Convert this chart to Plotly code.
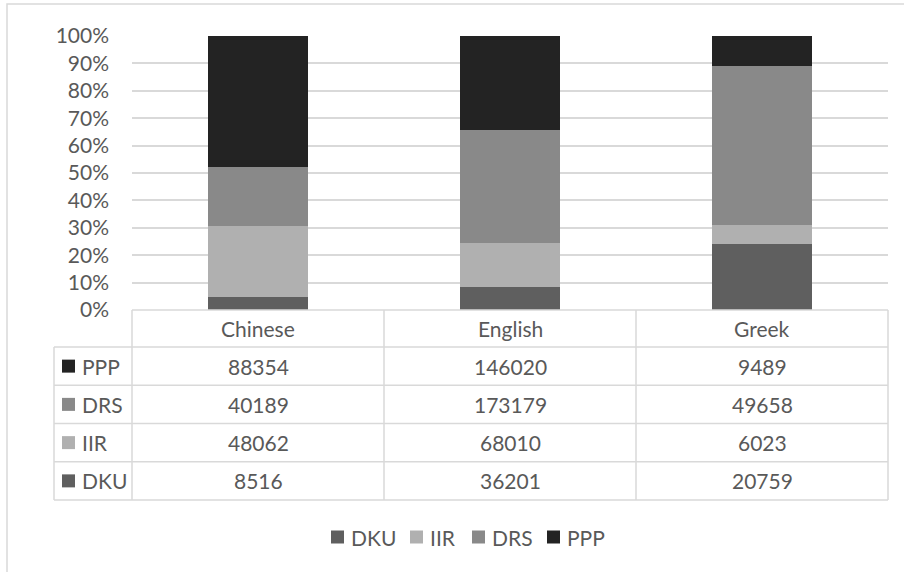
import plotly.graph_objects as go

# ---- data ----
categories = ["Chinese", "English", "Greek"]
series_names = ["DKU", "IIR", "DRS", "PPP"]
dku = [8516, 36201, 20759]
iir = [48062, 68010, 6023]
drs = [40189, 173179, 49658]
ppp = [88354, 146020, 9489]
y_ticks = [0, 10, 20, 30, 40, 50, 60, 70, 80, 90, 100]
table_rows = ["PPP", "DRS", "IIR", "DKU"]

series_values = {"DKU": dku, "IIR": iir, "DRS": drs, "PPP": ppp}
colors = {"DKU": "#5f5f5f", "IIR": "#b0b0b0", "DRS": "#898989", "PPP": "#232323"}

FONT = "Lato"
TXT = "#595959"
GRID = "#d9d9d9"
FS = 21

W, H = 904, 572
L, R, T, B = 132, 16, 36, 262
PW = W - L - R
PH = H - T - B


def px(x):
    return (x - L) / PW


def py(y):
    return (H - B - y) / PH


fig = go.Figure()
for name in series_names:
    fig.add_trace(go.Bar(
        x=categories, y=series_values[name], name=name, showlegend=False,
        marker=dict(color=colors[name], line=dict(width=0)),
    ))

shapes = []
annotations = []
line_style = dict(color=GRID, width=1.5)
font = dict(family=FONT, size=FS, color=TXT)

n = len(categories)
col_w = PW / n
header_top, header_bot = 310, 347
row_h = (500 - header_bot) / len(table_rows)
label_left = 54
table_bottom = header_bot + row_h * len(table_rows)
SQ = 13

# vertical lines of data columns
for j in range(n + 1):
    x = L + j * col_w
    shapes.append(dict(type="line", xref="paper", yref="paper",
                       x0=px(x), x1=px(x), y0=py(header_top), y1=py(table_bottom), line=line_style))
# label column left border
shapes.append(dict(type="line", xref="paper", yref="paper",
                   x0=px(label_left), x1=px(label_left), y0=py(header_bot), y1=py(table_bottom), line=line_style))
# header top line
shapes.append(dict(type="line", xref="paper", yref="paper",
                   x0=px(L), x1=px(L + PW), y0=py(header_top), y1=py(header_top), line=line_style))
# row lines
for i in range(len(table_rows) + 1):
    y = header_bot + i * row_h
    shapes.append(dict(type="line", xref="paper", yref="paper",
                       x0=px(label_left), x1=px(L + PW), y0=py(y), y1=py(y), line=line_style))

# header texts
for j, c in enumerate(categories):
    annotations.append(dict(xref="paper", yref="paper", x=px(L + (j + 0.5) * col_w),
                            y=py((header_top + header_bot) / 2), text=c, showarrow=False,
                            font=font, xanchor="center", yanchor="middle"))
# rows
for i, rname in enumerate(table_rows):
    yc = header_bot + (i + 0.5) * row_h
    shapes.append(dict(type="rect", xref="paper", yref="paper",
                       x0=px(62), x1=px(62 + SQ), y0=py(yc - SQ / 2), y1=py(yc + SQ / 2),
                       fillcolor=colors[rname], line=dict(width=0)))
    annotations.append(dict(xref="paper", yref="paper", x=px(80), y=py(yc), text=rname,
                            showarrow=False, font=font, xanchor="left", yanchor="middle"))
    for j in range(n):
        annotations.append(dict(xref="paper", yref="paper", x=px(L + (j + 0.5) * col_w),
                                y=py(yc), text=str(series_values[rname][j]), showarrow=False,
                                font=font, xanchor="center", yanchor="middle"))

# legend (bottom, centred)
legend_x = [331, 410, 472, 547]
legend_y = 537
for name, lx in zip(series_names, legend_x):
    shapes.append(dict(type="rect", xref="paper", yref="paper",
                       x0=px(lx), x1=px(lx + SQ), y0=py(legend_y - SQ / 2), y1=py(legend_y + SQ / 2),
                       fillcolor=colors[name], line=dict(width=0)))
    annotations.append(dict(xref="paper", yref="paper", x=px(lx + SQ + 5), y=py(legend_y),
                            text=name, showarrow=False, font=font,
                            xanchor="left", yanchor="middle"))

# outer chart frame (extends past the picture on right/bottom)
shapes.append(dict(type="rect", xref="paper", yref="paper",
                   x0=px(7), x1=px(W + 20), y0=py(H + 20), y1=py(4),
                   line=dict(color=GRID, width=1.5), fillcolor="rgba(0,0,0,0)", layer="below"))

fig.update_layout(
    width=W, height=H,
    margin=dict(l=L, r=R, t=T, b=B, autoexpand=False),
    paper_bgcolor="white", plot_bgcolor="white",
    barmode="stack", barnorm="percent", bargap=1 - 100 / 252,
    font=font, showlegend=False,
    xaxis=dict(showticklabels=False, showline=False, showgrid=False, zeroline=False,
               range=[-0.5, n - 0.5], fixedrange=True),
    yaxis=dict(range=[0, 100], tickvals=y_ticks, ticktext=[f"{v}%" for v in y_ticks],
               showgrid=True, gridcolor=GRID, gridwidth=1.5, zeroline=False,
               showline=False, ticks="", ticklabelstandoff=22, tickfont=font,
               fixedrange=True),
    shapes=shapes, annotations=annotations,
)

fig.write_html("out.html", config={"displayModeBar": False},
               post_script="document.body.style.margin='0px';")
